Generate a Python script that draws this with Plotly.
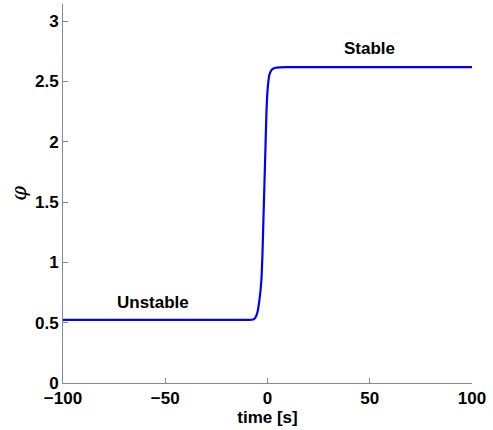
import plotly.graph_objects as go

time_s = [-100, -10, -7, -6, -5, -4, -3, -2.5, -2, -1.5, -1, -0.5, 0, 0.5, 1, 2, 3, 4, 6, 10, 100]
phi = [0.524, 0.524, 0.526, 0.54, 0.58, 0.68, 0.85, 1.05, 1.35, 1.65, 1.95, 2.25, 2.42, 2.51, 2.56, 2.595, 2.607, 2.613, 2.617, 2.618, 2.618]

x_ticks = [-100, -50, 0, 50, 100]
y_ticks = [0, 0.5, 1, 1.5, 2, 2.5, 3]
y_tick_labels = ["0", "0.5", "1", "1.5", "2", "2.5", "3"]

labels = ["Unstable", "Stable"]
label_x = [-56, 50]
label_y = [0.67, 2.77]

font_family = "Liberation Sans, Arial, Helvetica, sans-serif"

fig = go.Figure()
fig.add_trace(go.Scatter(x=time_s, y=phi, mode="lines",
                         line=dict(color="#0000ff", width=2.2, shape="spline", smoothing=0.6),
                         showlegend=False, hoverinfo="skip"))

for t, xx, yy in zip(labels, label_x, label_y):
    fig.add_annotation(x=xx, y=yy, text=t, showarrow=False,
                       font=dict(family=font_family, size=17, color="black", weight="bold"))

fig.update_layout(
    width=493, height=430,
    margin=dict(l=63, r=21, t=4, b=47),
    paper_bgcolor="white", plot_bgcolor="white",
    font=dict(family=font_family, size=17, color="black"),
)
fig.update_xaxes(range=[-100, 100], tickvals=x_ticks, ticks="inside", ticklen=5,
                 tickcolor="#888888", showline=True, linecolor="#888888", linewidth=1,
                 showgrid=False, zeroline=False, mirror=False,
                 tickfont=dict(family=font_family, size=17, color="black", weight="bold"),
                 title=dict(text="time [s]", standoff=3,
                            font=dict(family=font_family, size=17, color="black", weight="bold")))
fig.update_yaxes(range=[0, 3.1416], tickvals=y_ticks, ticktext=y_tick_labels, ticks="inside", ticklen=5,
                 tickcolor="#888888", showline=True, linecolor="#888888", linewidth=1,
                 showgrid=False, zeroline=False, mirror=False,
                 tickfont=dict(family=font_family, size=17, color="black", weight="bold"),
                 title=dict(text="φ", standoff=2,
                            font=dict(family="DejaVu Serif, serif", size=21, color="black",
                                      style="italic", weight="normal")))

fig.write_html("out.html", config={"displayModeBar": False},
               post_script="document.body.style.margin='0px';document.body.style.overflow='hidden';")
